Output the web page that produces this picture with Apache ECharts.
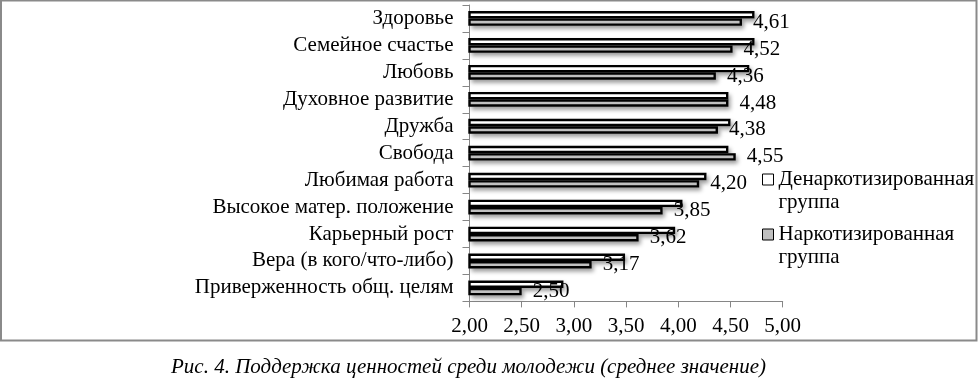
<!DOCTYPE html>
<html><head><meta charset="utf-8">
<script src="https://cdn.jsdelivr.net/npm/echarts@6/dist/echarts.min.js"></script>
<style>html,body{margin:0;padding:0;background:#fff}#c{width:978px;height:380px}</style>
</head><body><div id="c"></div>
<script>
const categories = ['Здоровье','Семейное счастье','Любовь','Духовное развитие','Дружба','Свобода','Любимая работа','Высокое матер. положение','Карьерный рост','Вера (в кого/что-либо)','Приверженность общ. целям'];
const denarcoValues = [4.73, 4.73, 4.68, 4.48, 4.50, 4.48, 4.27, 4.04, 3.97, 3.49, 2.90];
const narcoValues = [4.61, 4.52, 4.36, 4.48, 4.38, 4.55, 4.20, 3.85, 3.62, 3.17, 2.50];
const seriesNames = ['Денаркотизированная группа', 'Наркотизированная группа'];
const xTicks = {min: 2, max: 5, interval: 0.5};
const caption = 'Рис. 4. Поддержка ценностей среди молодежи (среднее значение)';

const FONT = '"Liberation Serif", "Times New Roman", serif';
const fmt = v => v.toFixed(2).replace('.', ',');
const shadow = {shadowColor: 'rgba(0,0,0,0.4)', shadowBlur: 4, shadowOffsetX: 2, shadowOffsetY: 3};
const BW = 7.4;

const yBase = {
  type: 'category', data: categories, inverse: true,
  axisLine: {show: true, lineStyle: {color: '#868686', width: 1}},
  axisTick: {show: true, length: 7, lineStyle: {color: '#868686'}},
  axisLabel: {interval: 0, fontFamily: FONT, fontSize: 21, color: '#000', margin: 16}
};

const chart = echarts.init(document.getElementById('c'), null, {renderer: 'canvas'});
chart.setOption({
  animation: false,
  backgroundColor: '#fff',
  title: {
    text: caption, left: 166, top: 352,
    textStyle: {fontFamily: FONT, fontStyle: 'italic', fontWeight: 'normal', fontSize: 21, color: '#000'}
  },
  graphic: [{
    type: 'rect', shape: {x: 1, y: 0.5, width: 975.5, height: 340}, silent: true,
    style: {fill: 'none', stroke: '#8a8a8a', lineWidth: 2}
  }],
  grid: {left: 469.5, right: 195.3, top: 5, bottom: 78.6, containLabel: false},
  legend: {
    orient: 'vertical', left: 762, top: 145, padding: 0,
    itemWidth: 11, itemHeight: 11, itemGap: -14,
    icon: 'rect',
    formatter: n => '\n' + n.replace(' ', '\n'),
    textStyle: {fontFamily: FONT, fontSize: 21, color: '#000', lineHeight: 23},
    data: [
      {name: seriesNames[0], itemStyle: {color: '#fff', borderColor: '#000', borderWidth: 1, shadowBlur: 0, shadowOffsetX: 0, shadowOffsetY: 0}},
      {name: seriesNames[1], itemStyle: {color: '#c0c0c0', borderColor: '#000', borderWidth: 1, shadowBlur: 0, shadowOffsetX: 0, shadowOffsetY: 0}}
    ]
  },
  xAxis: {
    type: 'value', min: xTicks.min, max: xTicks.max, interval: xTicks.interval,
    splitLine: {show: false},
    axisLine: {show: true, lineStyle: {color: '#868686', width: 1}},
    axisTick: {show: true, length: 6, lineStyle: {color: '#868686'}},
    axisLabel: {formatter: v => fmt(v), fontFamily: FONT, fontSize: 21, color: '#000', margin: 15}
  },
  yAxis: [yBase, Object.assign({}, yBase, {show: false})],
  series: [
    {
      name: 'shadow0', type: 'bar', yAxisIndex: 1, data: denarcoValues, z: 1, silent: true,
      barWidth: BW, barGap: '0%',
      itemStyle: Object.assign({color: '#fff'}, shadow)
    },
    {
      name: 'shadow1', type: 'bar', yAxisIndex: 1, data: narcoValues, z: 1, silent: true,
      barWidth: BW, barGap: '0%',
      itemStyle: Object.assign({color: '#c0c0c0'}, shadow)
    },
    {
      name: seriesNames[0], type: 'bar', data: denarcoValues, z: 3,
      barWidth: BW, barGap: '0%',
      itemStyle: {color: '#fff', borderColor: '#000', borderWidth: 2.4}
    },
    {
      name: seriesNames[1], type: 'bar', data: narcoValues, z: 3,
      barWidth: BW, barGap: '0%',
      itemStyle: {color: '#c0c0c0', borderColor: '#000', borderWidth: 2.4},
      label: {show: true, position: 'right', distance: 11, formatter: p => fmt(p.value),
        fontFamily: FONT, fontSize: 21, color: '#000'}
    }
  ]
});
</script></body></html>
